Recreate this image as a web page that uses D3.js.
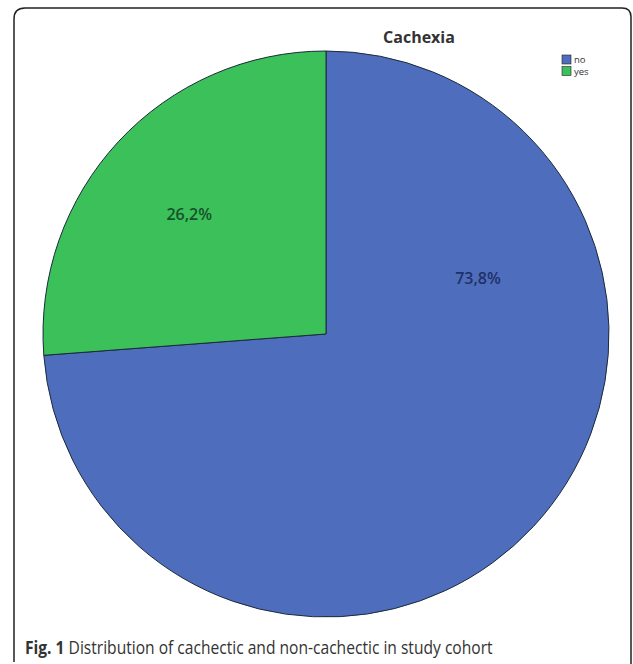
<!DOCTYPE html>
<html><head><meta charset="utf-8">
<script src="https://cdn.jsdelivr.net/npm/d3@7/dist/d3.min.js"></script>
<style>body{margin:0;background:#fff}svg{display:block}</style>
</head><body>
<svg id="c" width="633" height="664"></svg>
<script>
const categories = ["no", "yes"];
const values = [73.8, 26.2];
const labels = ["73,8%", "26,2%"];
const colors = ["#4f6dbd", "#3cc05a"];
const labelColors = ["#1f3168", "#14532a"];
const title = "Cachexia";
const captionBold = "Fig. 1";
const captionText = " Distribution of cachectic and non-cachectic in study cohort";

const svg = d3.select("#c");
// frame
svg.append("path")
  .attr("d", "M14,662 L14,19 Q14,8 25,8 L622,8 Q631,8 631,17 L631,664")
  .attr("fill", "none").attr("stroke", "#222").attr("stroke-width", 1.5);

const cx = 326, cy = 334, r = 283;
const g = svg.append("g").attr("transform", `translate(${cx},${cy})`);
const pie = d3.pie().sort(null).value(d => d.v);
const data = pie(categories.map((c, i) => ({c, v: values[i], i})));
const arc = d3.arc().innerRadius(0).outerRadius(r);
g.selectAll("path.slice").data(data).enter().append("path")
  .attr("class", "slice")
  .attr("d", arc)
  .attr("fill", d => colors[d.data.i])
  .attr("stroke", "#1c2a3a").attr("stroke-width", 1);

// SPSS-style label placement: label angle as a fraction through each slice, radius as fraction of r
const labelAngleFrac = [0.265, 0.48];
const labelRadiusFrac = [0.57, 0.64];
g.selectAll("text.lab").data(data).enter().append("text")
  .attr("class", "lab")
  .attr("transform", d => {
    const i = d.data.i;
    const a = d.startAngle + (d.endAngle - d.startAngle) * labelAngleFrac[i];
    const rr = r * labelRadiusFrac[i];
    return `translate(${rr * Math.sin(a)},${-rr * Math.cos(a)})`;
  })
  .attr("text-anchor", "middle").attr("dominant-baseline", "middle")
  .attr("font-family", "Open Sans, sans-serif").attr("font-size", 16).attr("font-weight", 600)
  .attr("fill", d => labelColors[d.data.i])
  .text(d => labels[d.data.i]);

svg.append("text").attr("x", 419).attr("y", 43)
  .attr("text-anchor", "middle")
  .attr("font-family", "Open Sans, sans-serif").attr("font-size", 16).attr("font-weight", 700)
  .attr("fill", "#333").text(title);

const leg = svg.append("g").attr("transform", "translate(562,55)");
categories.forEach((c, i) => {
  leg.append("rect").attr("x", 0).attr("y", i * 11.5).attr("width", 9).attr("height", 9)
    .attr("fill", colors[i]).attr("stroke", "#222").attr("stroke-width", 0.6);
  leg.append("text").attr("x", 12).attr("y", i * 11.5 + 8)
    .attr("font-family", "Open Sans, sans-serif").attr("font-size", 9.5)
    .attr("fill", "#333").text(c);
});

const cap = svg.append("text").attr("x", 0).attr("y", 0)
  .attr("font-family", "Open Sans, sans-serif").attr("font-size", 17.5).attr("fill", "#333");
cap.append("tspan").attr("font-weight", 700).text(captionBold);
cap.append("tspan").text(captionText);
const w = cap.node().getComputedTextLength();
const targetW = 468;
cap.attr("transform", `translate(25,654) scale(${targetW / w},1)`);
</script>
</body></html>
